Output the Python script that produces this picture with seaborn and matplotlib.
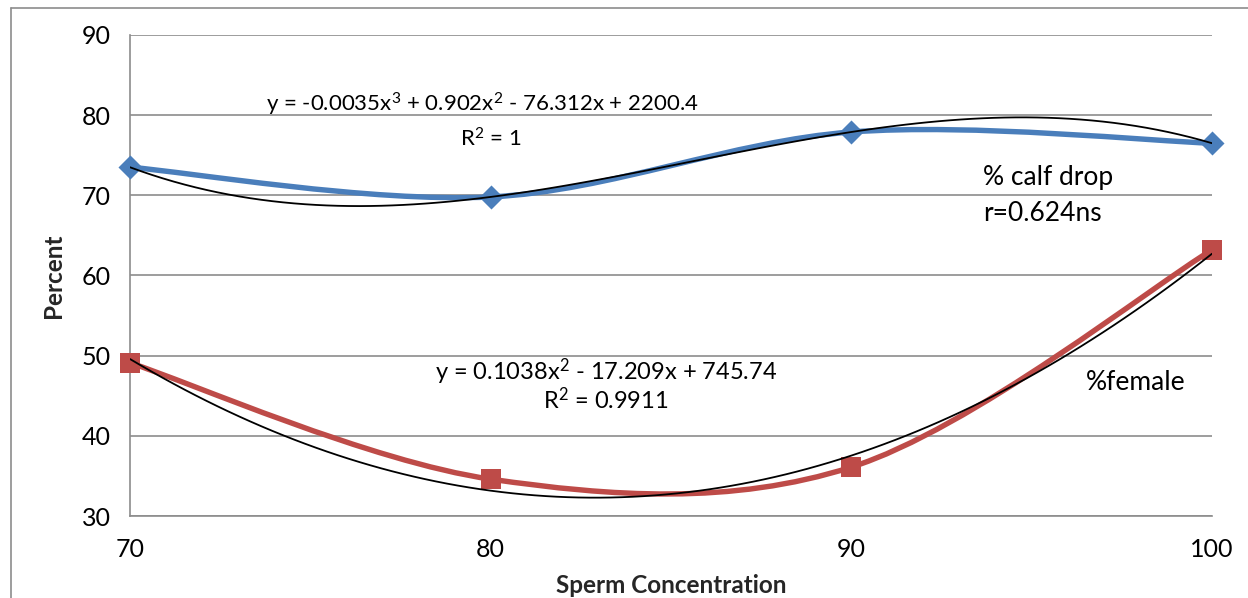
import numpy as np
import matplotlib
matplotlib.use("Agg")
import matplotlib.pyplot as plt
from matplotlib.path import Path
from matplotlib.patches import PathPatch
from matplotlib.lines import Line2D
import seaborn as sns

# Data
concentration = [70, 80, 90, 100]
calf_drop = [73.5, 69.8, 77.9, 76.5]
female = [49.1, 34.6, 36.1, 63.2]

x_ticks = [70, 80, 90, 100]
y_ticks = [30, 40, 50, 60, 70, 80, 90]

sns.set_theme(style="white")
plt.rcParams["font.family"] = ["Lato", "DejaVu Sans"]
plt.rcParams["mathtext.fontset"] = "custom"
plt.rcParams["mathtext.rm"] = "Lato"
plt.rcParams["mathtext.it"] = "Lato"
plt.rcParams["mathtext.default"] = "rm"

BLUE = "#4A7EBB"
RED = "#BE4B48"
GRID = "#8C8C8C"


def smooth_path(xs, ys):
    """Smoothed line through the points as cubic Bezier segments."""
    pts = np.column_stack([xs, ys]).astype(float)
    n = len(pts)
    verts = [pts[0]]
    codes = [Path.MOVETO]
    for i in range(n - 1):
        p_prev = pts[i - 1] if i > 0 else pts[i]
        p0 = pts[i]
        p1 = pts[i + 1]
        p_next = pts[i + 2] if i + 2 < n else pts[i + 1]
        c1 = p0 + (p1 - p_prev) / 6.0
        c2 = p1 - (p_next - p0) / 6.0
        verts += [c1, c2, p1]
        codes += [Path.CURVE4] * 3
    return Path(verts, codes)


fig = plt.figure(figsize=(12.48, 5.98), dpi=100)
ax = fig.add_axes([0.1042, 0.1371, 0.867, 0.8044])

# Smoothed series lines
for ys, col in [(calf_drop, BLUE), (female, RED)]:
    ax.add_patch(PathPatch(smooth_path(concentration, ys), fill=False,
                           edgecolor=col, lw=3.9, capstyle="round",
                           joinstyle="round", zorder=3, clip_on=False))

# Markers
sns.scatterplot(x=concentration, y=calf_drop, marker="D", s=150, color=BLUE,
                edgecolor=BLUE, linewidth=0, ax=ax, zorder=4, clip_on=False)
sns.scatterplot(x=concentration, y=female, marker="s", s=220, color=RED,
                edgecolor=RED, linewidth=0, ax=ax, zorder=4, clip_on=False)

# Polynomial trendlines
sns.regplot(x=np.array(concentration, float), y=np.array(calf_drop), order=3,
            ci=None, scatter=False, ax=ax,
            line_kws=dict(color="black", lw=1.3, zorder=5))
sns.regplot(x=np.array(concentration, float), y=np.array(female), order=2,
            ci=None, scatter=False, ax=ax,
            line_kws=dict(color="black", lw=1.3, zorder=5))

ax.set_xlim(70, 100)
ax.set_ylim(30, 90)
ax.set_xticks(x_ticks)
ax.set_yticks(y_ticks)
ax.set_xticklabels([str(v) for v in x_ticks])
ax.set_yticklabels([str(v) for v in y_ticks])
ax.tick_params(axis="both", which="major", labelsize=18, colors=GRID,
               labelcolor="black", length=8, width=1.2, direction="out")
ax.tick_params(axis="x", pad=8)
ax.tick_params(axis="y", pad=6)

# Horizontal gridlines only
ax.grid(False)
for v in y_ticks:
    ax.axhline(v, color=GRID, lw=1.2, zorder=1)
for side in ["top", "right"]:
    ax.spines[side].set_visible(False)
ax.spines["left"].set_color(GRID)
ax.spines["left"].set_linewidth(1.2)
ax.spines["bottom"].set_color(GRID)
ax.spines["bottom"].set_linewidth(1.2)

ax.set_xlabel("Sperm Concentration", fontsize=17.5, fontweight="bold",
              labelpad=9)
ax.set_ylabel("Percent", fontsize=17.5, fontweight="bold", labelpad=12)

# Annotations
fs = 16
ax.text(79.76, 81.4, "y = -0.0035x$^{3}$ + 0.902x$^{2}$ - 76.312x + 2200.4",
        ha="center", va="center", fontsize=fs, color="black", zorder=6)
ax.text(80.0, 77.1, "R$^{2}$ = 1", ha="center", va="center", fontsize=fs,
        color="black", zorder=6)
ax.text(83.2, 48.0, "y = 0.1038x$^{2}$ - 17.209x + 745.74",
        ha="center", va="center", fontsize=fs + 1, color="black", zorder=6)
ax.text(83.2, 44.5, "R$^{2}$ = 0.9911", ha="center", va="center",
        fontsize=fs + 1, color="black", zorder=6)
ax.text(93.65, 72.2, "% calf drop", ha="left", va="center", fontsize=19,
        color="black", zorder=6)
ax.text(93.65, 67.7, "r=0.624ns", ha="left", va="center", fontsize=19,
        color="black", zorder=6)
ax.text(96.5, 46.7, "%female", ha="left", va="center", fontsize=19,
        color="black", zorder=6)

# Outer chart frame
fx = 11 / 1248
fy = 1 - 8 / 598
fig.add_artist(Line2D([fx, 1.0], [fy, fy], transform=fig.transFigure,
                      color=GRID, lw=1.2))
fig.add_artist(Line2D([fx, fx], [0.0, fy], transform=fig.transFigure,
                      color=GRID, lw=1.2))

fig.savefig("out.png", dpi=100)
